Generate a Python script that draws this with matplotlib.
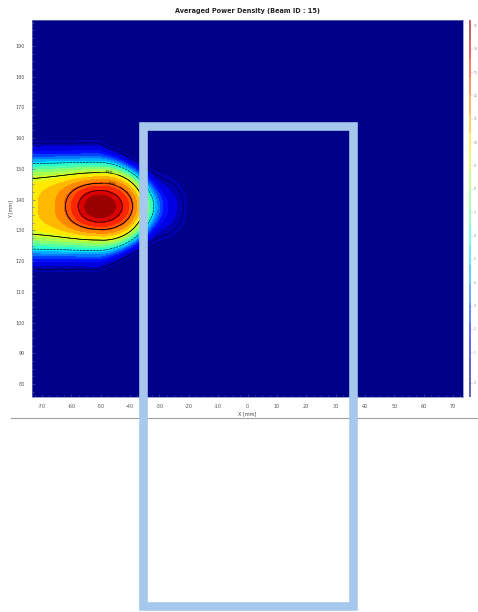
import numpy as np
import matplotlib
matplotlib.use("Agg")
import matplotlib.pyplot as plt
from matplotlib.patches import Rectangle
from matplotlib.lines import Line2D

# beam components:
# amplitude, centre, sigma x left / right, sigma y, shape exponents
amp = [0.70, 0.30, 0.10]
cx = [-50.5, -50.5, -29.0]
cy = [137.8, 137.8, 137.5]
sx_left = [80.0, 8.0, 3.5]
sx_right = [16.4, 9.0, 4.5]
sy = [13.0, 6.0, 5.5]
p_left = [4.0, 2.0, 2.0]
p_right = [6.0, 2.0, 2.0]

x_ticks = list(range(-70, 71, 10))
y_ticks = list(range(80, 191, 10))
cbar_labels = [str(v) for v in range(16)]
contour_levels = [0.03, 0.35, 0.6, 0.8, 0.9]
contour_styles = ["dashed", "dashed", "solid", "solid", "solid"]


def campo(x, y):
    z = np.zeros_like(x)
    for a, x0, y0, sl, sr, s_y, pl, pr in zip(amp, cx, cy, sx_left, sx_right,
                                               sy, p_left, p_right):
        dx = x - x0
        dy = np.abs(y - y0) / s_y
        izq = np.exp(-0.5 * (dx / sl) ** 2) * np.exp(-0.5 * dy ** pl)
        r = np.sqrt((dx / sr) ** 2 + dy ** 2)
        p = pl + (pr - pl) * np.clip(dx / 10.0, 0, 1)
        der = np.exp(-0.5 * r ** p)
        z += a * np.where(dx < 0, izq, der)
    return z / z.max()


xs = np.linspace(-74, 74, 500)
ys = np.linspace(75, 199, 500)
X, Y = np.meshgrid(xs, ys)
Z = campo(X, Y)

fig = plt.figure(figsize=(4.78, 6.12), dpi=100)
ax = fig.add_axes([32 / 478, 1 - 397 / 612, 431 / 478, 377 / 612])

niveles = np.concatenate(([0.0, 0.02], np.linspace(0.06, 1.0001, 19)))
cf = ax.contourf(X, Y, Z, levels=niveles, cmap="jet", vmin=0.0, vmax=1.0)
cs = ax.contour(X, Y, Z, levels=contour_levels, colors="black", linewidths=0.45,
                linestyles=contour_styles)
cs_lab = ax.contour(X, Y, Z, levels=[0.6, 0.8], colors="black", linewidths=0.45)
ax.clabel(cs_lab, fontsize=2.5, fmt="%.2f", manual=[(-47, 150.0), (-46, 146.0)])

ax.set_xlim(-73.4, 73.4)
ax.set_ylim(75.8, 198.4)
ax.set_xticks(x_ticks)
ax.set_xticklabels([str(v) for v in x_ticks])
ax.set_yticks(y_ticks)
ax.set_yticklabels([str(v) for v in y_ticks])
ax.set_xticks(np.arange(-72.5, 73, 2.5), minor=True)
ax.set_yticks(np.arange(77.5, 198, 2.5), minor=True)
ax.tick_params(which="major", labelsize=3.5, labelcolor="#555555", length=2,
               width=0.4, color="#4060b0", direction="in", pad=5)
ax.tick_params(which="minor", length=1.5, width=0.4, color="#4060b0", direction="in")
for s in ax.spines.values():
    s.set_color("#7080c0")
    s.set_linewidth(0.5)
ax.set_xlabel("X [mm]", fontsize=3.5, color="#444444", labelpad=1.5)
ax.set_ylabel("Y [mm]", fontsize=3.5, color="#444444", labelpad=2)
ax.set_title("Averaged Power Density (Beam ID : 15)", fontsize=4.7,
             fontweight="bold", color="#222222", pad=5)

# barra de color fina
cax = fig.add_axes([469 / 478, 1 - 397 / 612, 2.5 / 478, 377 / 612])
cb = fig.colorbar(cf, cax=cax, alpha=0.6)
cb.solids.set_alpha(0.6)
cb.outline.set_visible(False)
cb.set_ticks(np.linspace(0.015, 0.985, len(cbar_labels)))
cb.set_ticklabels(cbar_labels)
cax.tick_params(labelsize=2.2, labelcolor="#888888", length=1, width=0.4,
                color="#999999", pad=0.5)

# linea horizontal y contorno del telefono
fig.add_artist(Line2D([11 / 478, 478 / 478], [1 - 418 / 612, 1 - 418 / 612],
                      transform=fig.transFigure, color="#a0a0a0", lw=0.8))
fig.add_artist(Rectangle((142.5 / 478, 1 - 606 / 612), 210 / 478, 480 / 612,
                         transform=fig.transFigure, fill=False,
                         edgecolor="#a6c8ec", lw=6.2, zorder=10))

fig.savefig("out.png", dpi=100)
